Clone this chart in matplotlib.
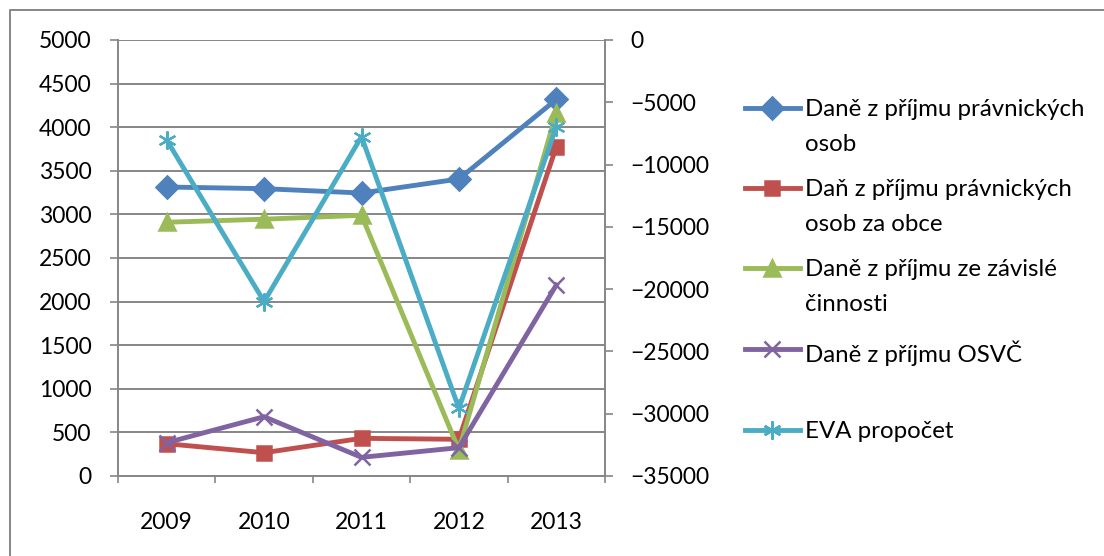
import matplotlib.pyplot as plt
from matplotlib.lines import Line2D

plt.rcParams['font.family'] = ['Lato', 'DejaVu Sans']

# roky a hodnoty jednotlivých řad
roky = ['2009', '2010', '2011', '2012', '2013']
dan_po = [3314, 3295, 3245, 3406, 4318]
dan_po_obce = [370, 267, 432, 421, 3777]
dan_zavisla = [2910, 2945, 2990, 298, 4163]
dan_osvc = [382, 680, 214, 325, 2190]
eva_propocet = [-8030, -21000, -7760, -29570, -6960]  # vedlejší osa

nazvy = ['Daně z příjmu právnických\nosob',
         'Daň z příjmu právnických\nosob za obce',
         'Daně z příjmu ze závislé\nčinnosti',
         'Daně z příjmu OSVČ',
         'EVA propočet']
barvy = ['#4F81BD', '#C0504D', '#9BBB59', '#8064A2', '#4BACC6']
znacky = ['D', 's', '^', 'x', (6, 2, 0)]
velikosti = [11, 10, 12, 11, 13]

W, H = 1104, 556
fig = plt.figure(figsize=(W / 100, H / 100), dpi=100)

def fx(px):
    return px / W

def fy(py):
    return 1 - py / H

ax = fig.add_axes([fx(118), fy(476), fx(605) - fx(118), fy(40) - fy(476)])
ax2 = ax.twinx()

sedá = '#868686'
x = list(range(len(roky)))

rady = [dan_po, dan_po_obce, dan_zavisla, dan_osvc]
for hodnoty, c, m, s in zip(rady, barvy[:4], znacky[:4], velikosti[:4]):
    ax.plot(x, hodnoty, color=c, lw=3.5, marker=m, ms=s, mew=1.8,
            mec=c, mfc=c, solid_joinstyle='round', zorder=3)
ax2.plot(x, eva_propocet, color=barvy[4], lw=3.5, marker=znacky[4],
         ms=velikosti[4], mew=1.6, mec=barvy[4], zorder=3)

ax.set_xlim(-0.5, 4.5)
ax.set_ylim(0, 5000)
ax.set_yticks(range(0, 5001, 500))
ax2.set_ylim(-35000, 0)
ax2.set_yticks(range(-35000, 1, 5000))

ax.grid(axis='y', color=sedá, lw=1.4)
ax.set_axisbelow(True)
ax.set_xticks(x)
ax.set_xticklabels(roky)
ax.set_xticks([i - 0.5 for i in range(6)], minor=True)

for a in (ax, ax2):
    for s in a.spines.values():
        s.set_visible(False)
ax.spines['left'].set_visible(True)
ax.spines['bottom'].set_visible(True)
ax2.spines['right'].set_visible(True)
for s in (ax.spines['left'], ax.spines['bottom'], ax2.spines['right']):
    s.set_color(sedá)
    s.set_linewidth(1.4)

fs = 16.5
ax.tick_params(axis='y', length=6, width=1.2, color=sedá, pad=13, labelsize=fs)
ax.tick_params(axis='x', which='major', length=0, pad=26, labelsize=fs)
ax.tick_params(axis='x', which='minor', length=5, width=1.2, color=sedá)
ax2.tick_params(axis='y', length=6, width=1.2, color=sedá, pad=12, labelsize=fs)

# vnější rámeček grafu
fig.add_artist(Line2D([fx(10), fx(10), fx(W + 10)], [fy(H + 10), fy(10), fy(10)],
                      transform=fig.transFigure, color=sedá, lw=1.4))

# legenda
radky_y = [108, 188, 268, 349, 430]
for nazev, c, m, s, yy in zip(nazvy, barvy, znacky, velikosti, radky_y):
    fig.add_artist(Line2D([fx(745), fx(800)], [fy(yy), fy(yy)],
                          transform=fig.transFigure, color=c, lw=3.5))
    fig.add_artist(Line2D([fx(772)], [fy(yy)], transform=fig.transFigure,
                          color=c, marker=m, ms=s, mew=1.8, mec=c, mfc=c))
    fig.text(fx(805), fy(yy - 9), nazev, fontsize=17.3, va='top', ha='left',
             linespacing=1.8, transform=fig.transFigure)

fig.savefig('out.png', dpi=100)
